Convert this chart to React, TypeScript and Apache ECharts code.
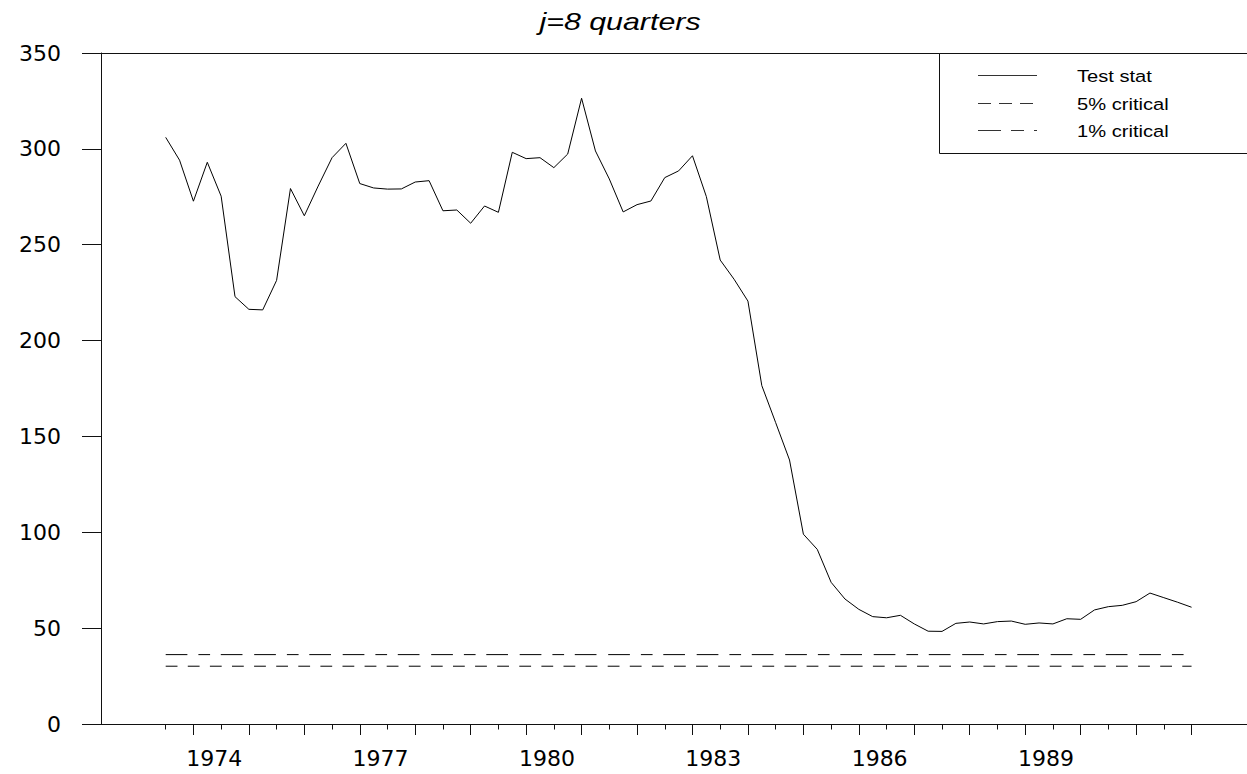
import React, { useEffect, useRef } from "react";
import * as echarts from "echarts";

const quarters: string[] = [
  "1973Q3", "1973Q4",
  "1974Q1", "1974Q2", "1974Q3", "1974Q4",
  "1975Q1", "1975Q2", "1975Q3", "1975Q4",
  "1976Q1", "1976Q2", "1976Q3", "1976Q4",
  "1977Q1", "1977Q2", "1977Q3", "1977Q4",
  "1978Q1", "1978Q2", "1978Q3", "1978Q4",
  "1979Q1", "1979Q2", "1979Q3", "1979Q4",
  "1980Q1", "1980Q2", "1980Q3", "1980Q4",
  "1981Q1", "1981Q2", "1981Q3", "1981Q4",
  "1982Q1", "1982Q2", "1982Q3", "1982Q4",
  "1983Q1", "1983Q2", "1983Q3", "1983Q4",
  "1984Q1", "1984Q2", "1984Q3", "1984Q4",
  "1985Q1", "1985Q2", "1985Q3", "1985Q4",
  "1986Q1", "1986Q2", "1986Q3", "1986Q4",
  "1987Q1", "1987Q2", "1987Q3", "1987Q4",
  "1988Q1", "1988Q2", "1988Q3", "1988Q4",
  "1989Q1", "1989Q2", "1989Q3", "1989Q4",
  "1990Q1", "1990Q2", "1990Q3", "1990Q4",
  "1991Q1", "1991Q2", "1991Q3", "1991Q4",
  "1992Q1",
];

const testStat: number[] = [
  306.0, 294.1, 272.7, 293.0, 275.3, 222.9, 216.3, 216.0, 231.4, 279.3,
  265.1, 280.6, 295.4, 302.9, 281.9, 279.6, 279.0, 279.1, 282.7, 283.4,
  267.7, 268.1, 261.2, 270.2, 266.9, 298.2, 294.9, 295.4, 290.2, 297.3,
  326.4, 298.9, 284.3, 267.1, 270.9, 272.8, 285.0, 288.5, 296.4, 275.1,
  242.0, 232.0, 220.6, 176.5, 157.2, 137.7, 99.0, 91.1, 73.9, 65.2,
  59.8, 56.0, 55.4, 56.7, 52.2, 48.4, 48.3, 52.5, 53.2, 52.2,
  53.4, 53.7, 52.0, 52.7, 52.2, 54.9, 54.6, 59.5, 61.2, 61.9,
  63.8, 68.3, 65.9, 63.5, 60.9,
];

const critical5 = 30.14;
const critical1 = 36.19;

const yearTicks: number[] = [
  1974, 1975, 1976, 1977, 1978, 1979, 1980, 1981, 1982, 1983,
  1984, 1985, 1986, 1987, 1988, 1989, 1990, 1991, 1992,
];
const halfYearTicks: number[] = [
  1973.5, 1974.5, 1975.5, 1976.5, 1977.5, 1978.5, 1979.5, 1980.5, 1981.5, 1982.5,
  1983.5, 1984.5, 1985.5, 1986.5, 1987.5, 1988.5, 1989.5, 1990.5, 1991.5,
];
const labelYears: number[] = [1974, 1977, 1980, 1983, 1986, 1989];
const yTicks: number[] = [0, 50, 100, 150, 200, 250, 300, 350];

const legendNames = ["Test stat", "5% critical", "1% critical"];

function quarterToX(q: string): number {
  const y = parseInt(q.slice(0, 4), 10);
  const n = parseInt(q.slice(5), 10);
  return y + (n - 1) / 4;
}

export default function App() {
  const ref = useRef<HTMLDivElement>(null);

  useEffect(() => {
    if (!ref.current) return;
    const chart = echarts.init(ref.current, undefined, { renderer: "svg" });

    const xs = quarters.map(quarterToX);
    const mainData = xs.map((x, i) => [x, testStat[i]]);
    const x0 = xs[0];
    const x1 = xs[xs.length - 1];

    const axisColor = "#111";
    const labelFont = "DejaVu Sans";
    const legendFont = "Liberation Sans";

    const dash5 = [11.8, 10.3];
    const dash1 = [21.7, 11, 11.7, 10.7, 21.7, 11.7];

    chart.setOption({
      animation: false,
      backgroundColor: "#fff",
      grid: { left: 101, right: 0, top: 53, bottom: 50, containLabel: false },
      xAxis: [
        {
          type: "value",
          min: 1972 + 1 / 3,
          max: 1993,
          position: "bottom",
          axisLine: { show: true, lineStyle: { color: axisColor, width: 1 } },
          axisTick: {
            show: true,
            inside: false,
            length: 11,
            customValues: yearTicks,
            lineStyle: { color: axisColor, width: 1 },
          },
          axisLabel: {
            show: true,
            customValues: labelYears.map((y) => y + 1.5 / 4),
            formatter: (v: number) => String(Math.floor(v)),
            fontFamily: labelFont,
            fontSize: 22,
            color: "#000",
            margin: 23,
          },
          splitLine: { show: false },
        },
        {
          type: "value",
          min: 1972 + 1 / 3,
          max: 1993,
          position: "bottom",
          axisLine: { show: false },
          axisTick: {
            show: true,
            inside: false,
            length: 5.5,
            customValues: halfYearTicks,
            lineStyle: { color: axisColor, width: 1 },
          },
          axisLabel: { show: false },
          splitLine: { show: false },
        },
        {
          type: "value",
          min: 1972 + 1 / 3,
          max: 1993,
          position: "top",
          axisLine: { show: true, lineStyle: { color: axisColor, width: 1 } },
          axisTick: { show: false },
          axisLabel: { show: false },
          splitLine: { show: false },
        },
      ],
      yAxis: {
        type: "value",
        min: 0,
        max: 350,
        interval: 50,
        axisLine: { show: true, lineStyle: { color: axisColor, width: 1 } },
        axisTick: {
          show: true,
          inside: false,
          length: 19,
          lineStyle: { color: axisColor, width: 1 },
        },
        axisLabel: {
          show: true,
          fontFamily: labelFont,
          fontSize: 22,
          color: "#000",
          margin: 40,
          customValues: yTicks,
        },
        splitLine: { show: false },
      },
      series: [
        {
          name: legendNames[0],
          type: "line",
          xAxisIndex: 0,
          data: mainData,
          symbol: "none",
          lineStyle: { color: "#000", width: 1 },
          silent: true,
        },
        {
          name: legendNames[1],
          type: "line",
          xAxisIndex: 0,
          data: [
            [x0, critical5],
            [x1, critical5],
          ],
          symbol: "none",
          lineStyle: { color: "#000", width: 1, type: dash5 },
          silent: true,
        },
        {
          name: legendNames[2],
          type: "line",
          xAxisIndex: 0,
          data: [
            [x0, critical1],
            [x1, critical1],
          ],
          symbol: "none",
          lineStyle: { color: "#000", width: 1, type: dash1 },
          silent: true,
        },
      ],
      graphic: [
        {
          type: "text",
          x: 620,
          y: 22,
          scaleX: 1.32,
          style: {
            text: "j=8 quarters",
            fontFamily: legendFont,
            fontStyle: "italic",
            fontSize: 23,
            fill: "#000",
            textAlign: "center",
            textVerticalAlign: "middle",
          },
        },
        {
          type: "rect",
          shape: { x: 939.5, y: 53.5, width: 400, height: 100 },
          style: { fill: "#fff", stroke: "#111", lineWidth: 1 },
          z: 10,
        },
        {
          type: "line",
          shape: { x1: 978, y1: 75.5, x2: 1037, y2: 75.5 },
          style: { stroke: "#333", lineWidth: 1 },
          z: 11,
        },
        {
          type: "line",
          shape: { x1: 978, y1: 103.5, x2: 1037, y2: 103.5 },
          style: { stroke: "#333", lineWidth: 1, lineDash: [13, 8] },
          z: 11,
        },
        {
          type: "line",
          shape: { x1: 978, y1: 130.5, x2: 1037, y2: 130.5 },
          style: { stroke: "#333", lineWidth: 1, lineDash: [23, 10, 13, 10] },
          z: 11,
        },
        ...legendNames.map((name, i) => ({
          type: "text",
          x: 1077,
          y: [76, 104, 131.5][i],
          scaleX: 1.22,
          z: 11,
          style: {
            text: name,
            fontFamily: legendFont,
            fontSize: 16.5,
            fill: "#000",
            textAlign: "left",
            textVerticalAlign: "middle",
          },
        })),
      ],
    });

    return () => {
      chart.dispose();
    };
  }, []);

  return (
    <div
      ref={ref}
      style={{ position: "absolute", left: 0, top: 0, width: 1247, height: 774 }}
    />
  );
}
